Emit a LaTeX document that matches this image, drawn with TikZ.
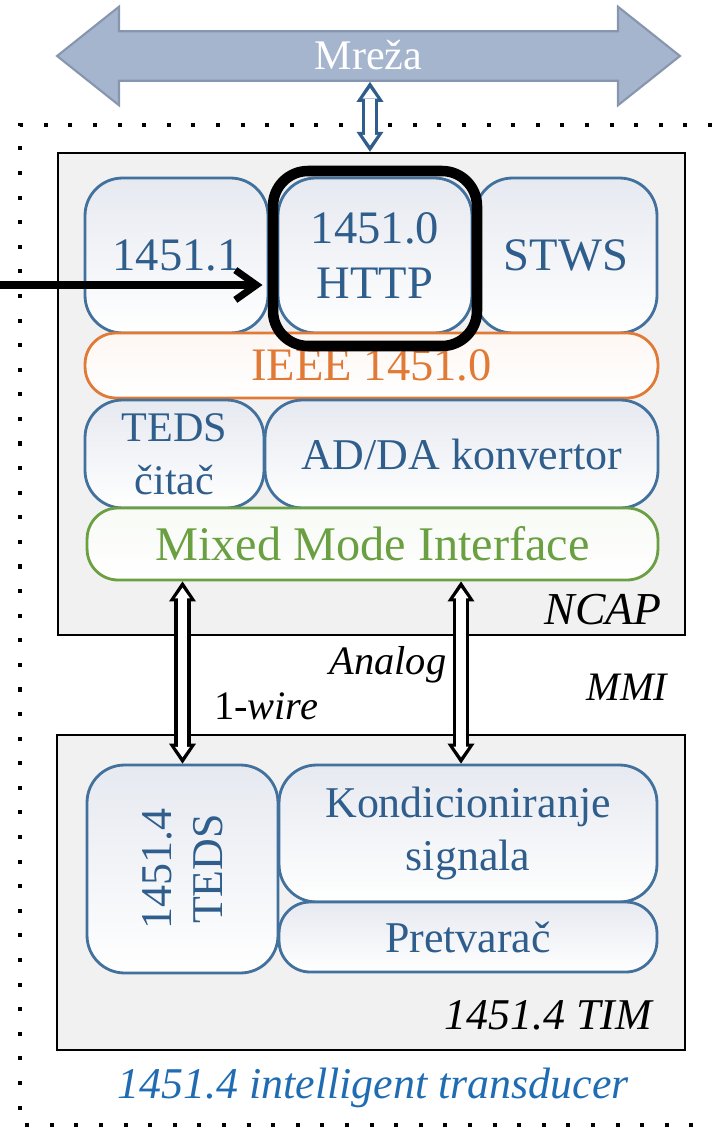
\documentclass[tikz,border=0pt]{standalone}
\usepackage{fontspec}
\setmainfont{Liberation Serif}
\usetikzlibrary{arrows.meta,shapes,positioning,calc}
\definecolor{boxblue}{HTML}{41719C}
\definecolor{txtblue}{HTML}{2F5E8C}
\definecolor{boxgray}{HTML}{E6E9F0}
\definecolor{ieeeorange}{HTML}{E07A36}
\definecolor{mmigreen}{HTML}{6A9F42}
\definecolor{modgray}{HTML}{F1F1F1}
\definecolor{netfill}{HTML}{A5B5CD}
\definecolor{netdraw}{HTML}{8796AE}
\definecolor{itblue}{HTML}{1F6CB3}

\tikzset{
  blk/.style={draw=boxblue, line width=1.6pt, rounded corners=0.75cm, top color=boxgray, bottom color=white,
    text=txtblue, align=center, inner sep=0pt, font=\fontsize{25}{30}\selectfont},
  bar/.style={blk, rounded corners=0.62cm},
  module/.style={draw=black, line width=1.4pt, fill=modgray, inner sep=0pt},
  lbl/.style={font=\fontsize{23}{27}\selectfont\itshape, inner sep=0pt},
  hollow/.style={line width=5.5pt, draw=white,
    {Triangle[length=6pt,width=8.5pt,line width=0pt]}-{Triangle[length=6pt,width=8.5pt,line width=0pt]},
    shorten <=3.6pt, shorten >=3.6pt,
    preaction={draw=#1, line width=9.5pt,
      {Triangle[length=11.4pt,width=15.4pt,line width=0pt]}-{Triangle[length=11.4pt,width=15.4pt,line width=0pt]},
      shorten <=0pt, shorten >=0pt}},
  hollow/.default=black
}

\begin{document}
\begin{tikzpicture}[x=0.02cm, y=-0.02cm]
    \useasboundingbox (0,0) rectangle (715,1131);

    % network
    \node[double arrow, draw=netdraw, fill=netfill, line width=1.2pt, double arrow tip angle=77,
      double arrow head extend=0.49cm, minimum height=12.46cm, inner ysep=0pt, text height=21pt,
      text depth=6pt, text=white, font=\fontsize{24}{28}\selectfont] (mreza) at (368.5,56) {Mreža};

    % transducer border
    \draw[line width=2.3pt, dash pattern=on 2.3pt off 11.7pt] (712,125) -| (20,1125) -- (712,1125);

    % NCAP
    \node[module, minimum width=12.54cm, minimum height=9.64cm] (ncap) at (371.5,394) {};
    \node[blk, minimum width=3.66cm, minimum height=3.1cm, font=\fontsize{26.5}{31}\selectfont] (b11) at (176.5,255.5) {1451.1};
    \node[blk, minimum width=3.88cm, minimum height=3.1cm, font=\fontsize{26.5}{31}\selectfont] (http) at (375,255.5) {1451.0\\HTTP};
    \node[blk, minimum width=3.64cm, minimum height=3.1cm, font=\fontsize{26.5}{31}\selectfont] (stws) at (566,255.5) {STWS};
    \node[bar, draw=ieeeorange, text=ieeeorange, top color=ieeeorange!6, minimum width=11.46cm, minimum height=1.3cm,
      font=\fontsize{26.5}{31}\selectfont] (ieee) at (371.5,365.5) {IEEE 1451.0};
    \node[blk, minimum width=3.58cm, minimum height=2.16cm, font=\fontsize{24}{30}\selectfont] (tedsc) at (174.5,454) {TEDS\\čitač};
    \node[blk, minimum width=7.86cm, minimum height=2.16cm] (adda) at (461.5,454) {AD/DA konvertor};
    \node[bar, draw=mmigreen, text=mmigreen, top color=mmigreen!5, minimum width=11.42cm, minimum height=1.44cm,
      font=\fontsize{27.5}{31}\selectfont] (mmi) at (372.5,544) {Mixed Mode Interface};
    \node[lbl, font=\fontsize{26}{30}\selectfont\itshape] (ncaplbl) at (603,610) {NCAP};
    \node[draw=black, line width=6pt, rounded corners=0.7cm, minimum width=4.08cm, minimum height=3.5cm,
      inner sep=0pt] (hl) at (375,258.5) {};

    % TIM
    \node[module, minimum width=12.56cm, minimum height=6.3cm] (tim) at (371,892.5) {};
    \node[blk, minimum width=3.82cm, minimum height=4.16cm] (teds4) at (182.5,869) {};
    \node[rotate=90, align=center, text=txtblue, font=\fontsize{25}{29}\selectfont, inner sep=0pt] (teds4txt)
      at (teds4.center) {1451.4\\TEDS};
    \node[blk, minimum width=7.56cm, minimum height=2.74cm] (kond) at (468,833.5) {Kondicioniranje\\signala};
    \node[bar, minimum width=7.56cm, minimum height=1.4cm] (pretv) at (468,937) {Pretvarač};
    \node[lbl, font=\fontsize{25}{29}\selectfont\itshape] (timlbl) at (548,1015) {1451.4 TIM};

    \node[lbl, text=itblue, font=\fontsize{25}{29}\selectfont\itshape] (itlbl) at (373,1088) {1451.4 intelligent transducer};

    % links
    \coordinate (an) at (461,0);
    \coordinate (net) at (370,0);
    \coordinate (in0) at (0,285);
    \draw[hollow=txtblue] (mreza.south -| net) -- (ncap.north -| net);
    \draw[hollow] (mmi.south -| teds4.north) -- (teds4.north);
    \draw[hollow] (mmi.south -| an) -- (kond.north -| an);
    \draw[line width=4pt, line cap=round, -{Straight Barb[length=12pt,width=17pt]}, shorten >=3pt] (in0) -- (in0 -| hl.west);

    \node[lbl] (analog) at (388,665) {Analog};
    \node[lbl] (wire) at (266,706) {{\upshape 1-}wire};
    \node[lbl] (mmilbl) at (627,687) {MMI};
\end{tikzpicture}
\end{document}
